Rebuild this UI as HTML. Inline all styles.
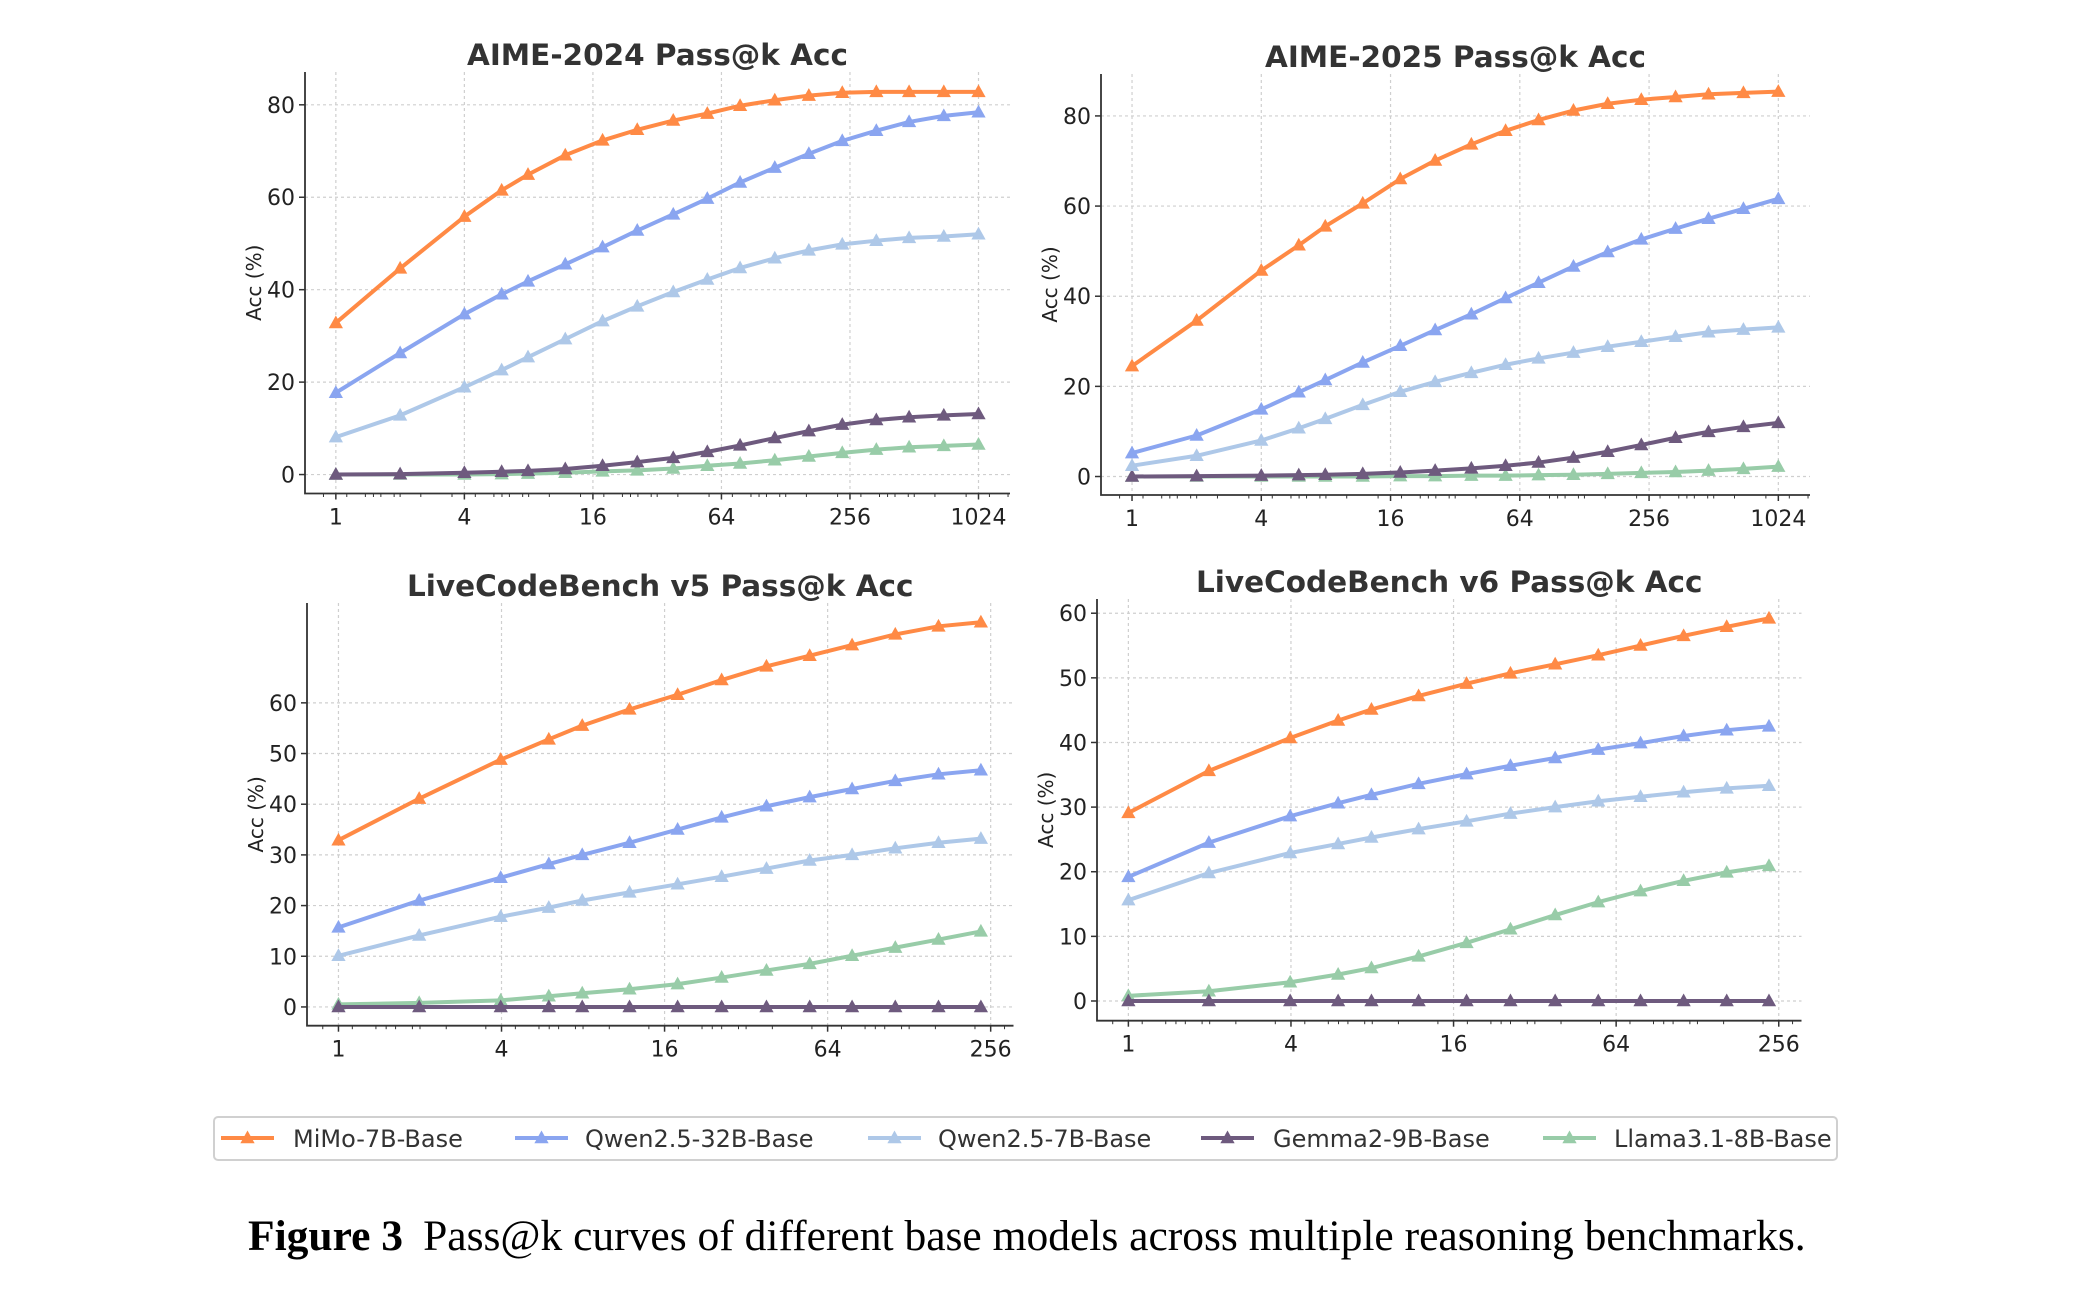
<!DOCTYPE html>
<html>
<head>
<meta charset="utf-8">
<style>
html,body{margin:0;padding:0;background:#fff;}
body{width:2100px;height:1284px;overflow:hidden;}
svg text{font-family:"DejaVu Sans","Liberation Sans",sans-serif;}
</style>
</head>
<body>
<svg id="fig" width="2100" height="1284" viewBox="0 0 2100 1284" xmlns="http://www.w3.org/2000/svg">
  <g id="panels"></g>
  <g id="legend">
    <rect x="214" y="1117" width="1623" height="43" rx="4" fill="#fff" stroke="#d0d0d0" stroke-width="2"/>
  </g>
  <text x="248" y="1250" font-size="43.5" style="font-family:'Liberation Serif',serif" fill="#000"><tspan font-weight="bold">Figure 3</tspan><tspan dx="20">Pass@k curves of different base models across multiple reasoning benchmarks.</tspan></text>
</svg>
<script>
const seriesNames = ["MiMo-7B-Base","Qwen2.5-32B-Base","Qwen2.5-7B-Base","Gemma2-9B-Base","Llama3.1-8B-Base"];
const seriesColors = ["#ff8a45","#8aa5f0","#aec8e8","#6e5a7e","#98cca8"];

const kAime = [0,1,2,2.58,2.99,3.57,4.15,4.69,5.25,5.78,6.29,6.83,7.36,7.88,8.41,8.92,9.46,10];
const kLcb = [0,0.99,1.99,2.58,2.99,3.57,4.16,4.7,5.25,5.78,6.3,6.83,7.36,7.88];

const aime24Mimo = [32.8,44.6,55.8,61.5,64.9,69.1,72.3,74.6,76.6,78.1,79.8,81.0,82.0,82.6,82.8,82.8,82.8,82.8];
const aime24Q32 = [17.7,26.3,34.7,39.0,41.8,45.5,49.2,52.8,56.3,59.7,63.2,66.4,69.4,72.2,74.4,76.3,77.6,78.4];
const aime24Q7 = [8.1,12.8,18.9,22.6,25.4,29.3,33.2,36.4,39.5,42.2,44.7,46.8,48.5,49.8,50.6,51.2,51.5,52.0];
const aime24Gemma = [0,0.1,0.4,0.6,0.8,1.2,1.9,2.7,3.6,4.9,6.3,7.9,9.4,10.8,11.8,12.4,12.8,13.1];
const aime24Llama = [0,0,0,0.1,0.2,0.4,0.7,0.9,1.3,1.9,2.4,3.1,3.9,4.7,5.4,5.9,6.2,6.5];

const aime25Mimo = [24.5,34.6,45.7,51.3,55.5,60.6,66.0,70.1,73.7,76.7,79.1,81.2,82.7,83.6,84.2,84.8,85.1,85.4];
const aime25Q32 = [5.2,9.1,14.9,18.7,21.4,25.3,29.0,32.5,36.0,39.6,43.0,46.6,49.8,52.6,55.0,57.2,59.4,61.6];
const aime25Q7 = [2.4,4.6,8.0,10.7,12.8,15.9,18.8,21.0,23.0,24.8,26.2,27.5,28.8,29.9,31.0,32.0,32.6,33.1];
const aime25Gemma = [0,0.1,0.2,0.3,0.4,0.6,0.9,1.3,1.8,2.4,3.1,4.2,5.5,7.0,8.6,9.9,11.0,11.9];
const aime25Llama = [0,0,0,0,0,0,0.1,0.1,0.2,0.2,0.3,0.4,0.6,0.8,1.0,1.3,1.7,2.2];

const lcb5Mimo = [32.9,41.1,48.8,52.8,55.5,58.7,61.6,64.5,67.2,69.3,71.4,73.5,75.1,75.9];
const lcb5Q32 = [15.7,21.0,25.5,28.2,30.0,32.4,35.0,37.4,39.6,41.4,43.0,44.6,45.9,46.7];
const lcb5Q7 = [10.1,14.1,17.8,19.6,21.0,22.6,24.2,25.7,27.3,28.9,30.0,31.3,32.4,33.2];
const lcb5Gemma = [0,0,0,0,0,0,0,0,0,0,0,0,0,0];
const lcb5Llama = [0.5,0.8,1.3,2.1,2.7,3.5,4.5,5.8,7.2,8.5,10.1,11.7,13.3,14.9];

const lcb6Mimo = [29.1,35.6,40.7,43.4,45.1,47.2,49.1,50.7,52.1,53.5,55.0,56.5,57.9,59.2];
const lcb6Q32 = [19.2,24.5,28.6,30.6,31.9,33.6,35.1,36.4,37.6,38.9,39.9,41.0,41.9,42.5];
const lcb6Q7 = [15.6,19.8,22.9,24.3,25.3,26.6,27.8,29.0,30.0,30.9,31.6,32.3,32.9,33.3];
const lcb6Gemma = [0,0,0,0,0,0,0,0,0,0,0,0,0,0];
const lcb6Llama = [0.8,1.5,2.9,4.1,5.1,6.9,9.0,11.1,13.3,15.3,17.0,18.6,19.9,20.9];

const titles = ["AIME-2024 Pass@k Acc","AIME-2025 Pass@k Acc","LiveCodeBench v5 Pass@k Acc","LiveCodeBench v6 Pass@k Acc"];
const xTicksAime = [0,2,4,6,8,10];
const xTickLabelsAime = ["1","4","16","64","256","1024"];
const xTicksLcb = [0,2,4,6,8];
const xTickLabelsLcb = ["1","4","16","64","256"];
const yTicksAime = [0,20,40,60,80];
const yTicksLcb5 = [0,10,20,30,40,50,60];
const yTicksLcb6 = [0,10,20,30,40,50,60];

const NS = "http://www.w3.org/2000/svg";
function mk(tag, attrs, parent){
  const e = document.createElementNS(NS, tag);
  for (const k in attrs) e.setAttribute(k, attrs[k]);
  parent.appendChild(e);
  return e;
}
const panelsG = document.getElementById('panels');

const panels = [
  {box:[305,72,1010,493.5], xd:[-0.48,10.49], yd:[-4.1,87.1], xs:kAime, xt:xTicksAime, xl:xTickLabelsAime, yt:yTicksAime, data:[aime24Mimo,aime24Q32,aime24Q7,aime24Gemma,aime24Llama], name:"aime-2024"},
  {box:[1101,74,1810,495], xd:[-0.48,10.49], yd:[-4.1,89.3], xs:kAime, xt:xTicksAime, xl:xTickLabelsAime, yt:yTicksAime, data:[aime25Mimo,aime25Q32,aime25Q7,aime25Gemma,aime25Llama], name:"aime-2025"},
  {box:[307,603,1013.5,1025.7], xd:[-0.386,8.28], yd:[-3.7,79.7], xs:kLcb, xt:xTicksLcb, xl:xTickLabelsLcb, yt:yTicksLcb5, data:[lcb5Mimo,lcb5Q32,lcb5Q7,lcb5Gemma,lcb5Llama], name:"lcb-v5"},
  {box:[1097,599,1801.5,1020.7], xd:[-0.386,8.28], yd:[-3.05,62.2], xs:kLcb, xt:xTicksLcb, xl:xTickLabelsLcb, yt:yTicksLcb6, data:[lcb6Mimo,lcb6Q32,lcb6Q7,lcb6Gemma,lcb6Llama], name:"lcb-v6"}
];

function tri(g, x, y, color){
  const s = 7.5;
  const p = mk('polygon', {points:`${x},${y-s} ${x-s*0.95},${y+s*0.7} ${x+s*0.95},${y+s*0.7}`, fill:color}, g);
  
  
}

panels.forEach((P, pi) => {
  const [L,T,R,B] = P.box;
  const sx = v => L + (v - P.xd[0]) / (P.xd[1]-P.xd[0]) * (R-L);
  const sy = v => B - (v - P.yd[0]) / (P.yd[1]-P.yd[0]) * (B-T);
  const g = mk('g', {}, panelsG);
  
  
  P.xt.forEach(t => {
    const l = mk('line', {x1:sx(t), x2:sx(t), y1:T, y2:B, stroke:'#cfcfcf', 'stroke-width':1.2, 'stroke-dasharray':'3,3'}, g);
    
    
  });
  P.yt.forEach(t => {
    const l = mk('line', {x1:L, x2:R, y1:sy(t), y2:sy(t), stroke:'#cfcfcf', 'stroke-width':1.2, 'stroke-dasharray':'3,3'}, g);
    
    
  });
  const sp = mk('path', {d:`M${L},${T} L${L},${B} L${R},${B}`, fill:'none', stroke:'#333', 'stroke-width':1.8}, g);
  
  
  P.xt.forEach((t, i) => {
    mk('line', {x1:sx(t), x2:sx(t), y1:B, y2:B+6, stroke:'#333', 'stroke-width':1.5}, g);
    const tx = mk('text', {x:sx(t), y:B+31, 'text-anchor':'middle', 'font-size':22, fill:'#222'}, g);
    tx.textContent = P.xl[i];
    
    
  });
  for (let e = Math.ceil(P.xd[0]); e <= Math.floor(P.xd[1]); e++) {
    if (e % 2 === 0) continue;
    mk('line', {x1:sx(e), x2:sx(e), y1:B, y2:B+3.5, stroke:'#333', 'stroke-width':1}, g);
  }
  for (let e = Math.floor(P.xd[0]); e <= Math.ceil(P.xd[1]); e+=2) {
    [3,5,7,9,11,13,15].forEach(m => {
      const vv = e + Math.log2(m) - 2;
      if (vv > P.xd[0] && vv < P.xd[1] && Math.abs(vv - Math.round(vv)) > 0.01)
        mk('line', {x1:sx(vv), x2:sx(vv), y1:B, y2:B+3.5, stroke:'#333', 'stroke-width':1}, g);
    });
  }
  P.yt.forEach(t => {
    mk('line', {x1:L-6, x2:L, y1:sy(t), y2:sy(t), stroke:'#333', 'stroke-width':1.5}, g);
    const tx = mk('text', {x:L-10, y:sy(t)+8, 'text-anchor':'end', 'font-size':22, fill:'#222'}, g);
    tx.textContent = String(t);
    
    
  });
  const yl = mk('text', {transform:`translate(${L-44},${(T+B)/2}) rotate(-90)`, 'text-anchor':'middle', 'font-size':20, fill:'#222'}, g);
  yl.textContent = 'Acc (%)';
  
  
  const ti = mk('text', {x:(L+R)/2, y:T-7, 'text-anchor':'middle', 'font-size':29.5, 'font-weight':'bold', fill:'#333'}, g);
  ti.textContent = titles[pi];
  
  
  for (let s = P.data.length - 1; s >= 0; s--) {
    const vals = P.data[s];
    const sg = mk('g', {}, g);
    
    
    const pts = vals.map((v, i) => sx(P.xs[i]) + ',' + sy(v)).join(' ');
    const pl = mk('polyline', {points:pts, fill:'none', stroke:seriesColors[s], 'stroke-width':4, 'stroke-linejoin':'round', 'stroke-linecap':'round'}, sg);
    
    
    vals.forEach((v, i) => tri(sg, sx(P.xs[i]), sy(v), seriesColors[s]));
  }
});

const legG = document.getElementById('legend');
const legLineX = [221, 515, 868, 1201, 1543];
const legTextX = [293, 585, 938, 1273, 1614];
seriesNames.forEach((n, i) => {
  const eg = mk('g', {}, legG);
  
  
  mk('line', {x1:legLineX[i], x2:legLineX[i]+53, y1:1138, y2:1138, stroke:seriesColors[i], 'stroke-width':4}, eg);
  tri(eg, legLineX[i]+26.5, 1138, seriesColors[i]);
  const t = mk('text', {x:legTextX[i], y:1147, 'font-size':24, fill:'#333'}, eg);
  t.textContent = n;
});
</script>
</body>
</html>
